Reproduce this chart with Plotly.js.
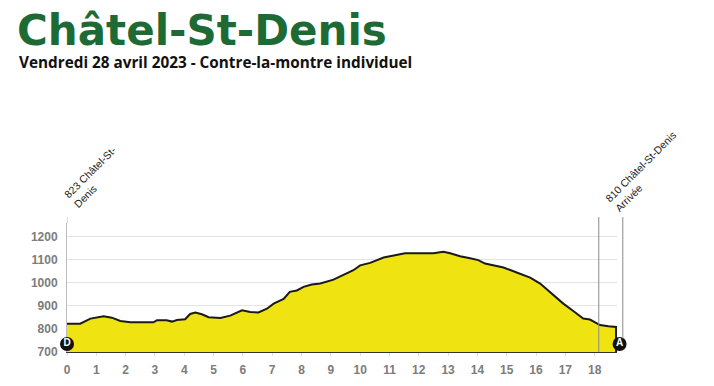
<!DOCTYPE html>
<html>
<head>
<meta charset="utf-8">
<script src="https://cdn.plot.ly/plotly-3.0.1.min.js"></script>
<style>html,body{margin:0;padding:0;background:#fff;}#chart{width:714px;height:386px;}</style>
</head>
<body>
<div id="chart"></div>
<script>
// Profile data (distance in km, elevation in m)
const distanceKm = [0, 0.45, 0.8, 1.25, 1.53, 1.82, 2.16, 2.95, 3.07, 3.4, 3.58, 3.75, 4.03, 4.2, 4.38, 4.6, 4.83, 5.23, 5.57, 5.97, 6.25, 6.53, 6.82, 7.05, 7.39, 7.6, 7.84, 8.07, 8.35, 8.64, 9.09, 9.55, 9.77, 10.0, 10.34, 10.8, 11.25, 11.53, 12.5, 12.84, 13.07, 13.41, 13.75, 14.03, 14.26, 14.55, 14.89, 15.34, 15.8, 16.14, 16.48, 16.93, 17.27, 17.61, 17.84, 18.18, 18.47, 18.73, 18.73];
const elevationM = [823, 823, 845, 855, 849, 835, 829, 829, 838, 838, 832, 839, 842, 865, 871, 864, 851, 848, 858, 881, 874, 872, 888, 910, 930, 961, 967, 983, 993, 997, 1014, 1041, 1055, 1076, 1087, 1110, 1123, 1129, 1129, 1135, 1129, 1116, 1107, 1099, 1084, 1077, 1067, 1045, 1023, 997, 959, 910, 878, 845, 841, 817, 812, 809, 700];

// Start / finish markers
const markerKm = [0, 18.85];
const markerElev = [735, 735];
const markerLabels = ['D', 'A'];

// Point labels (rotated)
const pointLabels = ['823 Châtel-St-<br>Denis', '810 Châtel-St-Denis<br>Arrivée'];
const pointLabelKm = [0.95, 19.75];

// Vertical guide lines
const guideKm = [18.14, 18.96];

const xTicks = [0,1,2,3,4,5,6,7,8,9,10,11,12,13,14,15,16,17,18];
const yTicks = [700, 800, 900, 1000, 1100, 1200];

const titleText = 'Châtel-St-Denis';
const subtitleText = 'Vendredi 28 avril 2023 - Contre-la-montre individuel';

// geometry
const plotL = 66.7, plotR = 654, plotT = 223, plotB = 351.7;
const pxPerKm = 29.33;
const xMainMax = 18.76;
const x2Max = (plotR - plotL) / pxPerKm;
const mainDomainEnd = xMainMax / x2Max;
const py = p => (plotB - p) / (plotB - plotT);

const profile = {
  x: distanceKm, y: elevationM, type: 'scatter', mode: 'lines',
  xaxis: 'x', yaxis: 'y',
  fill: 'tozeroy', fillcolor: '#EFE412',
  line: {color: '#1a1a1a', width: 2}, hoverinfo: 'skip'
};
const markers = {
  x: markerKm, y: markerElev, type: 'scatter', mode: 'markers+text',
  xaxis: 'x2', yaxis: 'y2',
  text: markerLabels, textposition: 'middle center',
  textfont: {color: '#ffffff', size: 10, family: 'Liberation Sans, Arial', weight: 700},
  marker: {color: '#111111', size: 14}, cliponaxis: false, hoverinfo: 'skip'
};

const layout = {
  width: 714, height: 386,
  margin: {l: plotL, r: 714 - plotR, t: plotT, b: 386 - plotB},
  paper_bgcolor: '#ffffff', plot_bgcolor: 'rgba(0,0,0,0)',
  showlegend: false,
  title: {
    text: titleText, x: 17/714, xanchor: 'left', xref: 'container',
    y: 1 - 30/386, yanchor: 'middle', yref: 'container',
    font: {family: 'DejaVu Sans', size: 42, color: '#1d6a34', weight: 700}
  },
  xaxis: {
    domain: [0, mainDomainEnd],
    range: [0, xMainMax], tickvals: xTicks, ticktext: xTicks.map(String),
    showgrid: false, zeroline: false, showline: true, linecolor: '#333333', linewidth: 1,
    ticks: 'outside', ticklen: 3, tickcolor: '#dddddd', ticklabelstandoff: 4,
    tickfont: {family: 'Liberation Sans, Arial', size: 12, color: '#7c7c7c', weight: 700}
  },
  yaxis: {
    range: [700, 1260], tickvals: yTicks, ticktext: yTicks.map(String),
    showgrid: true, gridcolor: '#e3e3e3', gridwidth: 1, zeroline: false,
    showline: true, linecolor: '#bbbbbb', linewidth: 1, ticks: '', ticklabelstandoff: 6,
    tickfont: {family: 'Liberation Sans, Arial', size: 12, color: '#7c7c7c', weight: 700}
  },
  xaxis2: {domain: [0, 1], range: [0, x2Max], visible: false, anchor: 'y2'},
  yaxis2: {domain: [0, 1], range: [700, 1260], visible: false, anchor: 'x2', overlaying: 'y'},
  annotations: [
    {text: subtitleText, xref: 'paper', yref: 'paper', x: (17 - plotL)/(plotR - plotL), y: py(62),
     xanchor: 'left', yanchor: 'middle', showarrow: false,
     font: {family: 'Open Sans', size: 15.3, color: '#111111', weight: 700}},
    {text: pointLabels[0], xref: 'x2', yref: 'paper', x: pointLabelKm[0], y: py(177),
     xanchor: 'center', yanchor: 'middle', showarrow: false, textangle: -45, align: 'left',
     font: {family: 'Liberation Sans, Arial', size: 10.5, color: '#222222'}},
    {text: pointLabels[1], xref: 'x2', yref: 'paper', x: pointLabelKm[1], y: py(171),
     xanchor: 'center', yanchor: 'middle', showarrow: false, textangle: -45, align: 'left',
     font: {family: 'Liberation Sans, Arial', size: 10.5, color: '#222222'}}
  ],
  shapes: [
    {type: 'line', xref: 'x2', yref: 'paper', x0: guideKm[0], x1: guideKm[0], y0: 0, y1: py(217),
     line: {color: '#8a8a8a', width: 1}, layer: 'above'},
    {type: 'line', xref: 'x2', yref: 'paper', x0: guideKm[1], x1: guideKm[1], y0: py(338), y1: py(217),
     line: {color: '#8a8a8a', width: 1}, layer: 'above'},
    {type: 'line', xref: 'x2', yref: 'paper', x0: 0, x1: 0, y0: 1, y1: py(217),
     line: {color: '#bbbbbb', width: 1}}
  ]
};

Plotly.newPlot('chart', [profile, markers], layout, {displayModeBar: false, staticPlot: true});
</script>
</body>
</html>
